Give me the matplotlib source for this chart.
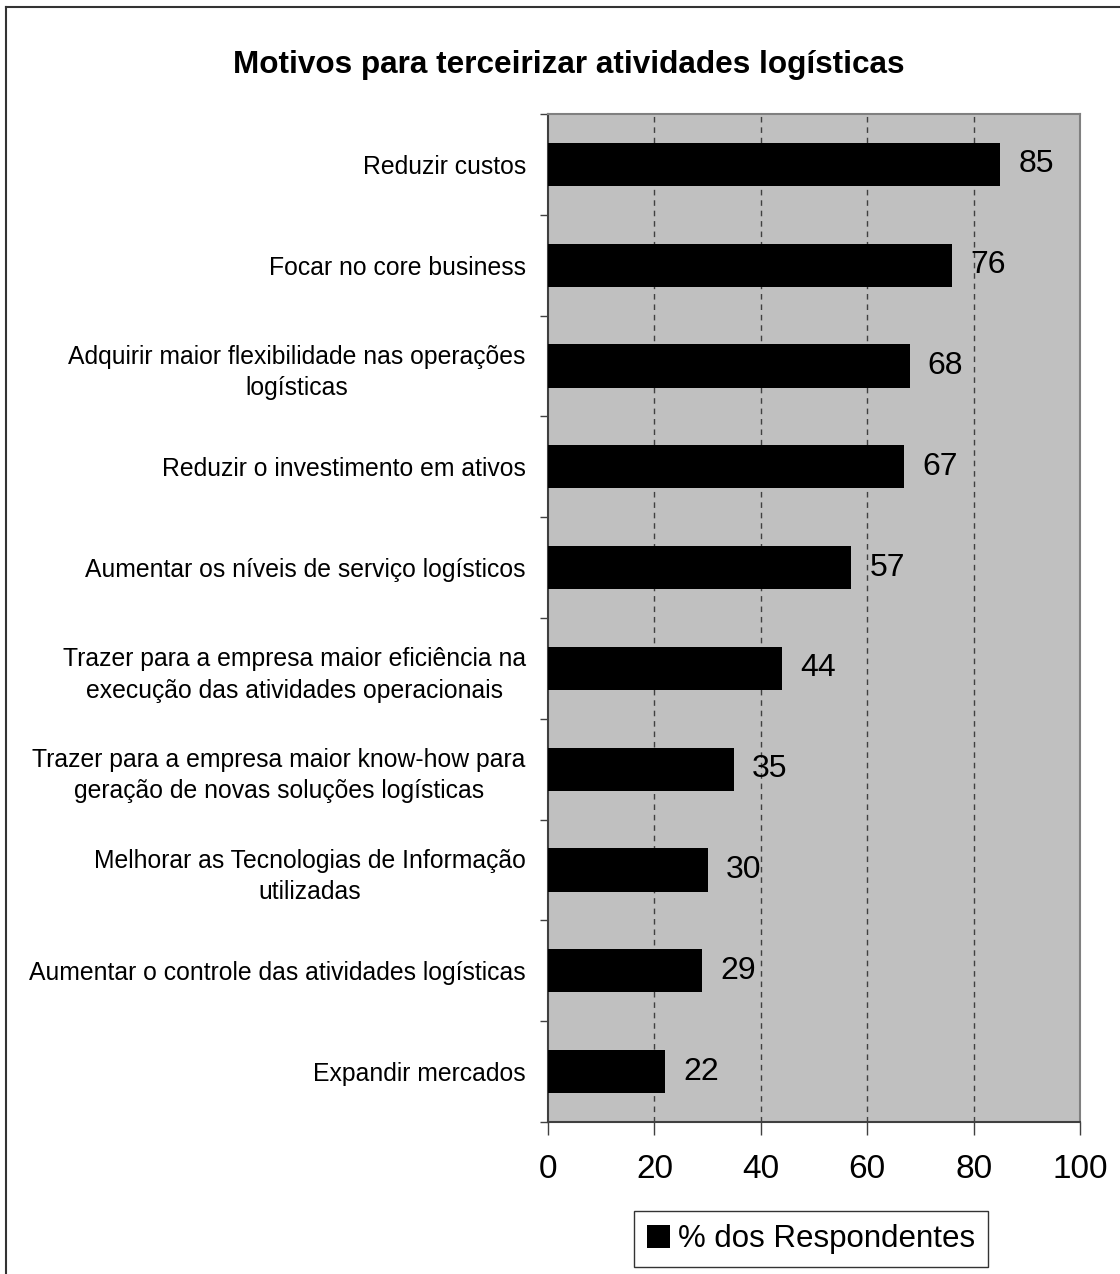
import numpy as np
from matplotlib import pyplot as plt
from matplotlib.lines import Line2D

categorias = [
    "Reduzir custos",
    "Focar no core business",
    "Adquirir maior flexibilidade nas operações\nlogísticas",
    "Reduzir o investimento em ativos",
    "Aumentar os níveis de serviço logísticos",
    "Trazer para a empresa maior eficiência na\nexecução das atividades operacionais",
    "Trazer para a empresa maior know-how para\ngeração de novas soluções logísticas",
    "Melhorar as Tecnologias de Informação\nutilizadas",
    "Aumentar o controle das atividades logísticas",
    "Expandir mercados",
]
valores = [85, 76, 68, 67, 57, 44, 35, 30, 29, 22]
x_ticks = [0, 20, 40, 60, 80, 100]
serie = "% dos Respondentes"
titulo = "Motivos para terceirizar atividades logísticas"

plt.rcParams['font.family'] = ['Liberation Sans', 'DejaVu Sans']

W, H = 1120, 1274
fig = plt.figure(figsize=(W / 100, H / 100), dpi=100)
ax = fig.add_axes([548 / W, 1 - 1122 / H, (1080 - 548) / W, (1122 - 114) / H])
ax.set_facecolor('#c0c0c0')

y = np.arange(len(categorias))
barras = ax.barh(y, valores, height=0.43, color='black', label=serie, zorder=3)

for yi, v in zip(y, valores):
    ax.annotate(str(v), (v, yi), xytext=(13, 0), textcoords='offset points',
                ha='left', va='center', fontsize=23, zorder=4)

ax.set_xlim(0, 100)
ax.set_ylim(len(categorias) - 0.5, -0.5)
ax.set_xticks(x_ticks)
ax.set_xticklabels([str(t) for t in x_ticks], fontsize=24)
ax.set_yticks(y)
ax.set_yticklabels(categorias, fontsize=17.8, multialignment='center', linespacing=1.4)
ax.set_yticks(np.arange(-0.5, len(categorias), 1.0), minor=True)

ax.tick_params(axis='y', which='major', length=0, pad=16)
ax.tick_params(axis='y', which='minor', length=6, width=1, color='#404040', direction='out')
ax.tick_params(axis='x', length=9, width=1, color='#404040', direction='out', pad=14)

for xv in x_ticks[1:-1]:
    ax.axvline(xv, color='#404040', lw=1, linestyle=(0, (4, 3.5)), zorder=1)

for s in ['top', 'right']:
    ax.spines[s].set_color('#808080')
    ax.spines[s].set_linewidth(1.5)
for s in ['left', 'bottom']:
    ax.spines[s].set_color('#404040')
    ax.spines[s].set_linewidth(1.5)

fig.text(569 / W, 1 - 65 / H, titulo, ha='center', va='center',
         fontsize=22.7, fontweight='bold')

leg = fig.legend(handles=[barras], labels=[serie], loc='center',
                 bbox_to_anchor=(811 / W, 1 - 1239 / H), fontsize=22.5,
                 frameon=True, fancybox=False, edgecolor='black',
                 handlelength=0.75, handleheight=0.75, handletextpad=0.25,
                 borderpad=0.42, borderaxespad=0)
leg.get_frame().set_linewidth(1)

# moldura cortada (so topo e esquerda aparecem)
fig.add_artist(Line2D([5.5 / W, 5.5 / W], [0, 1 - 6.5 / H], color='#333333', lw=1.5))
fig.add_artist(Line2D([5.5 / W, 1], [1 - 6.5 / H, 1 - 6.5 / H], color='#333333', lw=1.5))

fig.savefig('out.png', dpi=100)
